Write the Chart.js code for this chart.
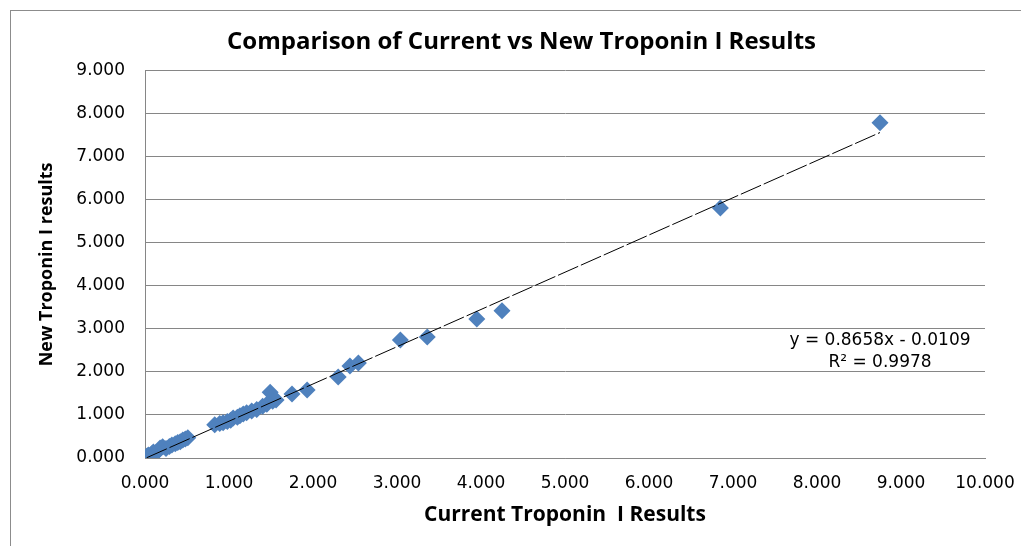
<!DOCTYPE html>
<html>
<head>
<meta charset="utf-8">
<title>Comparison of Current vs New Troponin I Results</title>
<script src="https://cdn.jsdelivr.net/npm/chart.js@4.4.1/dist/chart.umd.min.js"></script>
<style>
	html, body { margin: 0; padding: 0; background: #fff; }
	#wrap { position: relative; width: 1021px; height: 546px; overflow: hidden; }
	#frame { position: absolute; left: 10px; top: 10px; width: 1100px; height: 600px;
		border: 1px solid #8c8c8c; box-sizing: border-box; }
	#chart { position: absolute; left: 0; top: 0; }
</style>
</head>
<body>
<div id="wrap">
	<div id="frame"></div>
	<canvas id="chart" width="1021" height="546"></canvas>
</div>
<script>
"use strict";

// Data

var currentResults = [0.02, 0.04, 0.06, 0.08, 0.10, 0.13, 0.16, 0.18, 0.21, 0.25,
	0.29, 0.32, 0.36, 0.39, 0.42, 0.45, 0.48, 0.51, 0.83, 0.89,
	0.93, 0.98, 1.02, 1.05, 1.10, 1.13, 1.17, 1.21, 1.27, 1.33,
	1.40, 1.45, 1.49, 1.52, 1.56, 1.75, 1.93, 2.30, 2.44, 2.54,
	3.04, 3.36, 3.95, 4.25, 6.85, 8.75];
var newResults = [0.04, 0.07, 0.05, 0.10, 0.14, 0.12, 0.17, 0.23, 0.26, 0.22,
	0.27, 0.30, 0.33, 0.36, 0.38, 0.42, 0.44, 0.47, 0.77, 0.80,
	0.82, 0.85, 0.88, 0.93, 0.95, 0.98, 1.02, 1.05, 1.09, 1.13,
	1.20, 1.25, 1.53, 1.32, 1.35, 1.49, 1.58, 1.88, 2.14, 2.21,
	2.74, 2.81, 3.23, 3.42, 5.81, 7.79];

// Linear trendline as printed on the chart
var TREND_SLOPE = 0.8658,
	TREND_INTERCEPT = -0.0109,
	TREND_R_SQUARED = 0.9978;

var X_TICKS = [0, 1, 2, 3, 4, 5, 6, 7, 8, 9, 10],
	Y_TICKS = [0, 1, 2, 3, 4, 5, 6, 7, 8, 9];

// where the equation box sits, in data units
var TREND_LABEL_POS = { x: 8.75, y: 2.74 };

var TICK_FONT = "'DejaVu Sans', sans-serif",
	TITLE_FONT = "'Open Sans', sans-serif",
	MARKER_COLOR = "#4F81BD",
	GRID_COLOR = "#868686";

// Build the datasets

var points = currentResults.map(function (x, i) {
	return { x: x, y: newResults[i] };
});

var minX = Math.min.apply(null, currentResults),
	maxX = Math.max.apply(null, currentResults);
var trendPoints = [minX, maxX].map(function (x) {
	return { x: x, y: TREND_SLOPE * x + TREND_INTERCEPT };
});

// draws "y = ...x - ..." and "R² = ..." next to the trendline
var trendLabel = {
	id: "trendLabel",
	afterDatasetsDraw: function (chart) {
		var ctx = chart.ctx,
			xs = chart.scales.x,
			ys = chart.scales.y,
			cx = xs.getPixelForValue(TREND_LABEL_POS.x),
			cy = ys.getPixelForValue(TREND_LABEL_POS.y),
			sign = TREND_INTERCEPT < 0 ? " - " : " + ";

		ctx.save();
		ctx.fillStyle = "#000";
		ctx.font = "17px " + TICK_FONT;
		ctx.textAlign = "center";
		ctx.textBaseline = "middle";
		ctx.fillText("y = " + TREND_SLOPE.toFixed(4) + "x" + sign +
			Math.abs(TREND_INTERCEPT).toFixed(4), cx, cy);
		ctx.fillText("R\u00b2 = " + TREND_R_SQUARED.toFixed(4), cx, cy + 22);
		ctx.restore();
	}
};

function fixedTicks(values) {
	return function (scale) {
		scale.ticks = values.map(function (v) { return { value: v }; });
	};
}

new Chart(document.getElementById("chart"), {
	type: "scatter",
	data: {
		datasets: [{
			label: "Results",
			data: points,
			pointStyle: "rectRot",
			pointRadius: 8.5,
			pointHoverRadius: 8.5,
			backgroundColor: MARKER_COLOR,
			borderColor: MARKER_COLOR,
			borderWidth: 0,
			order: 1
		}, {
			type: "line",
			label: "Linear trend",
			data: trendPoints,
			borderColor: "#000",
			borderWidth: 1,
			borderDash: [22, 3],
			pointRadius: 0,
			fill: false,
			order: 0
		}]
	},
	options: {
		responsive: false,
		animation: false,
		// left padding only shifts the title centre, the y axis is widened back below
		layout: { padding: { top: 0, right: 36, bottom: 0, left: 58 } },
		plugins: {
			legend: { display: false },
			tooltip: { enabled: false },
			title: {
				display: true,
				text: "Comparison of Current vs New Troponin I Results",
				color: "#000",
				font: { family: TITLE_FONT, size: 24, weight: "bold" },
				padding: { top: 28, bottom: 14 }
			}
		},
		scales: {
			x: {
				type: "linear",
				min: 0,
				max: 10,
				afterBuildTicks: fixedTicks(X_TICKS),
				afterFit: function (scale) {
					scale.height = 88;
					scale.paddingLeft = 0;
					scale.paddingRight = 0;
				},
				ticks: {
					padding: 15,
					color: "#000",
					font: { family: TICK_FONT, size: 17 },
					callback: function (v) { return v.toFixed(3); }
				},
				grid: { display: false, drawTicks: false },
				border: { display: true, color: GRID_COLOR },
				title: {
					display: true,
					text: "Current Troponin  I Results",
					color: "#000",
					font: { family: TITLE_FONT, size: 21, weight: "bold" },
					padding: { top: 0, bottom: 18 }
				}
			},
			y: {
				type: "linear",
				min: 0,
				max: 9,
				afterBuildTicks: fixedTicks(Y_TICKS),
				afterFit: function (scale) {
					scale.width = 87;
					scale.paddingTop = 0;
					scale.paddingBottom = 0;
				},
				ticks: {
					padding: 20,
					color: "#000",
					font: { family: TICK_FONT, size: 17 },
					callback: function (v) { return v.toFixed(3); }
				},
				grid: { color: GRID_COLOR, lineWidth: 1, drawTicks: false },
				border: { display: true, color: GRID_COLOR },
				title: {
					display: true,
					text: "New Troponin I results",
					color: "#000",
					font: { family: TITLE_FONT, size: 18, weight: "bold" },
					padding: { top: -22, bottom: 0 }
				}
			}
		}
	},
	plugins: [trendLabel]
});
</script>
</body>
</html>
